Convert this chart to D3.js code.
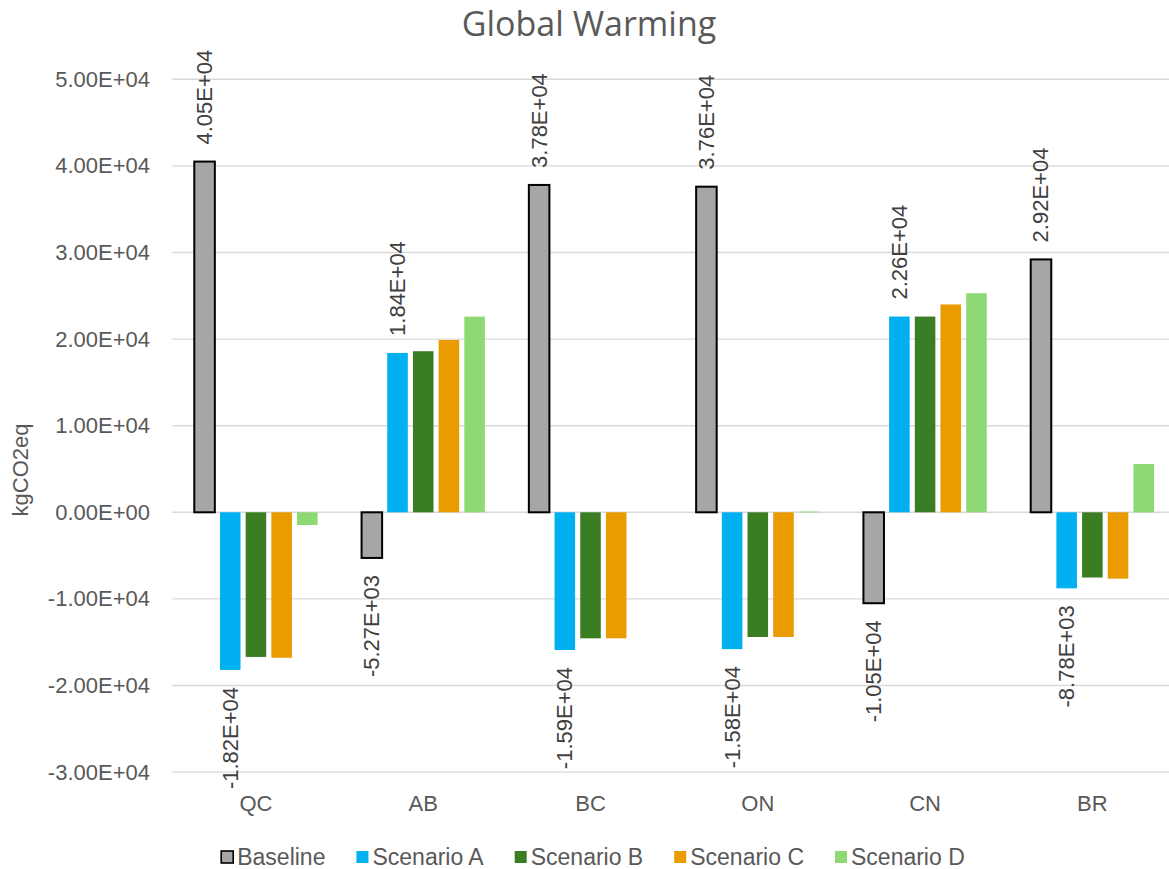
<!DOCTYPE html>
<html>
<head>
<meta charset="utf-8">
<script src="https://cdn.jsdelivr.net/npm/d3@7"></script>
<style>
  body { margin: 0; background: #ffffff; }
  svg { display: block; }
</style>
</head>
<body>
<svg id="chart" width="1169" height="869"></svg>
<script>
// Global warming potential per province, kgCO2eq
const categories = ["QC", "AB", "BC", "ON", "CN", "BR"];
const seriesNames = ["Baseline", "Scenario A", "Scenario B", "Scenario C", "Scenario D"];
const baseline  = [40500, -5270, 37800, 37600, -10500, 29200];
const scenarioA = [-18200, 18400, -15900, -15800, 22600, -8780];
const scenarioB = [-16700, 18600, -14550, -14400, 22600, -7530];
const scenarioC = [-16800, 19900, -14550, -14400, 24000, -7660];
const scenarioD = [-1470, 22600, 0, 80, 25300, 5570];
const yTicks = [-30000, -20000, -10000, 0, 10000, 20000, 30000, 40000, 50000];
const seriesColors = ["#A6A6A6", "#00B0F0", "#3B7D23", "#E99B00", "#8ED973"];
const showLabels = [true, true, false, false, false];

const seriesValues = [baseline, scenarioA, scenarioB, scenarioC, scenarioD];

// 5.00E+04 style scientific notation
function sci(v) {
  const s = v.toExponential(2).toUpperCase();
  return s.replace(/E([+-])(\d)$/, "E$10$2");
}

const svg = d3.select("#chart");
const W = 1169, H = 869;
const plot = { left: 172.3, right: 1176, top: 79.3, bottom: 772.1 };

const y = d3.scaleLinear().domain([-30000, 50000]).range([plot.bottom, plot.top]);
const x0 = d3.scaleBand().domain(categories).range([plot.left, plot.right]).paddingInner(0).paddingOuter(0);
const x1 = d3.scaleBand().domain(seriesNames).range([0, x0.bandwidth()]).paddingInner(0.2).paddingOuter(0.856);

const font = "'Liberation Sans', Arial, sans-serif";

// title
svg.append("text")
  .attr("x", 589).attr("y", 36)
  .attr("text-anchor", "middle")
  .attr("font-family", "'Open Sans', sans-serif")
  .attr("font-size", 34)
  .attr("fill", "#595959")
  .text("Global Warming");

// gridlines
svg.append("g").selectAll("line").data(yTicks).join("line")
  .attr("x1", plot.left).attr("x2", W)
  .attr("y1", d => y(d)).attr("y2", d => y(d))
  .attr("stroke", "#D9D9D9").attr("stroke-width", 1.4);

// y axis (labels only)
const yAxis = d3.axisLeft(y).tickValues(yTicks).tickFormat(sci).tickSize(0).tickPadding(0);
const gy = svg.append("g").attr("transform", `translate(150,0)`).call(yAxis);
gy.select(".domain").remove();
gy.selectAll("text")
  .attr("font-family", font).attr("font-size", 22)
  .attr("fill", "#595959");

// y axis title
svg.append("text")
  .attr("transform", "translate(28,470) rotate(-90)")
  .attr("text-anchor", "middle")
  .attr("font-family", font).attr("font-size", 22)
  .attr("fill", "#595959")
  .text("kgCO2eq");

// x axis category labels
const xAxis = d3.axisBottom(x0).tickSize(0).tickPadding(0);
const gx = svg.append("g").attr("transform", `translate(0,795)`).call(xAxis);
gx.select(".domain").remove();
gx.selectAll("text")
  .attr("font-family", font).attr("font-size", 22)
  .attr("fill", "#595959");

// bars
const barData = [];
categories.forEach((c, ci) => {
  seriesNames.forEach((s, si) => {
    barData.push({ cat: c, series: s, si, value: seriesValues[si][ci] });
  });
});

const bars = svg.append("g");
bars.selectAll("rect").data(barData).join("rect")
  .attr("x", d => x0(d.cat) + x1(d.series))
  .attr("width", x1.bandwidth())
  .attr("y", d => y(Math.max(0, d.value)))
  .attr("height", d => Math.abs(y(d.value) - y(0)))
  .attr("fill", d => seriesColors[d.si])
  .attr("stroke", d => d.si === 0 ? "#000000" : "none")
  .attr("stroke-width", d => d.si === 0 ? 2 : 0);

// rotated value labels
const gap = 17;
svg.append("g").selectAll("text")
  .data(barData.filter(d => showLabels[d.si]))
  .join("text")
  .attr("transform", d => {
    const cx = x0(d.cat) + x1(d.series) + x1.bandwidth() / 2;
    const cy = d.value >= 0 ? y(d.value) - gap : y(d.value) + gap;
    return `translate(${cx},${cy}) rotate(-90)`;
  })
  .attr("text-anchor", d => d.value >= 0 ? "start" : "end")
  .attr("dominant-baseline", "central")
  .attr("font-family", font).attr("font-size", 22)
  .attr("fill", "#404040")
  .text(d => sci(d.value));

// legend
const legend = svg.append("g");
const items = legend.selectAll("g").data(seriesNames).join("g");
items.append("rect")
  .attr("width", 12).attr("height", 12).attr("y", -6)
  .attr("fill", (d, i) => seriesColors[i])
  .attr("stroke", (d, i) => i === 0 ? "#000" : "none")
  .attr("stroke-width", 1.6);
items.append("text")
  .attr("x", 16).attr("dominant-baseline", "central")
  .attr("font-family", font).attr("font-size", 23)
  .attr("fill", "#595959")
  .text(d => d);
let xCursor = 0;
const offsets = [];
items.each(function () {
  offsets.push(xCursor);
  const tw = d3.select(this).select("text").node().getComputedTextLength();
  xCursor += 16 + tw + 31;
});
const totalW = xCursor - 31;
const startX = 593 - totalW / 2;
items.attr("transform", (d, i) => `translate(${startX + offsets[i]},857)`);
</script>
</body>
</html>
